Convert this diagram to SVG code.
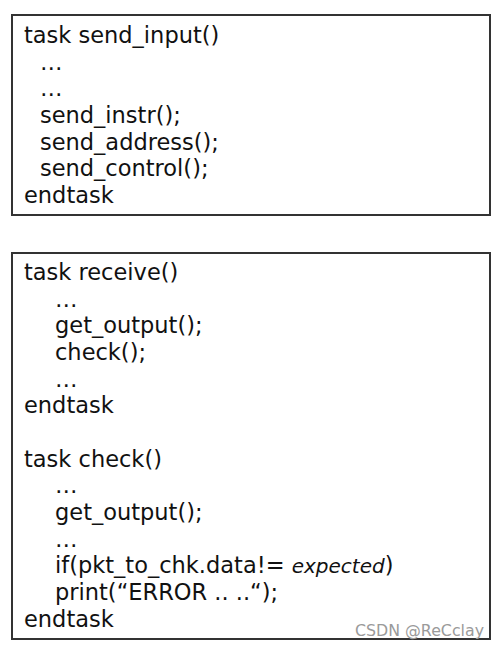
<svg xmlns="http://www.w3.org/2000/svg" width="499" height="651" viewBox="0 0 499 651">
<style>
.box{fill:#fff;stroke:#333;stroke-width:2}
.t{font-family:"DejaVu Sans",Verdana,sans-serif;font-size:22.5px;fill:#111}
.it{font-style:italic;font-size:20px}
.wm{font-family:"DejaVu Sans","Noto Sans",sans-serif;font-size:16px;fill:#9a9a9a}
</style>
<rect width="499" height="651" fill="#fff"/>
<g id="send_input">
<rect class="box" x="12" y="15" width="478" height="200"/>
<text class="t" x="24" y="43">task send_input()</text>
<text class="t" x="40" y="69.7">…</text>
<text class="t" x="40" y="96.3">…</text>
<text class="t" x="40" y="123">send_instr();</text>
<text class="t" x="40" y="149.7">send_address();</text>
<text class="t" x="40" y="176.3">send_control();</text>
<text class="t" x="24" y="203">endtask</text>
</g>
<g id="receive_check">
<rect class="box" x="12" y="253" width="478" height="386"/>
<text class="t" x="24" y="280">task receive()</text>
<text class="t" x="55" y="306.7">…</text>
<text class="t" x="55" y="333.3">get_output();</text>
<text class="t" x="55" y="360">check();</text>
<text class="t" x="55" y="386.7">…</text>
<text class="t" x="24" y="413.3">endtask</text>
<text class="t" x="24" y="466.7">task check()</text>
<text class="t" x="55" y="493.3">…</text>
<text class="t" x="55" y="520">get_output();</text>
<text class="t" x="55" y="546.7">…</text>
<text class="t" x="55" y="573.3">if(pkt_to_chk.data!= <tspan class="it">expected</tspan>)</text>
<text class="t" x="55" y="600">print(“ERROR .. ..“);</text>
<text class="t" x="24" y="626.7">endtask</text>
</g>
<text class="wm" x="355" y="636" textLength="129" lengthAdjust="spacingAndGlyphs">CSDN @ReCclay</text>
</svg>
